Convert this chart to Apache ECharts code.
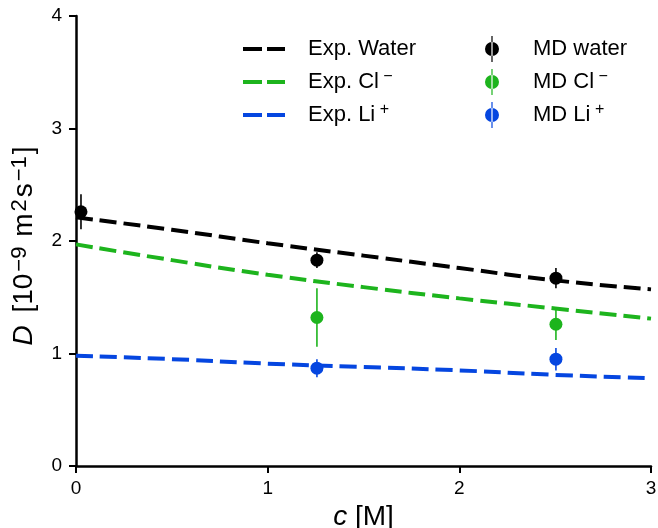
<!DOCTYPE html>
<html><head><meta charset="utf-8">
<script src="https://cdn.jsdelivr.net/npm/echarts@6/dist/echarts.min.js"></script>
<style>html,body{margin:0;padding:0;background:#fff}#c{width:658px;height:528px}</style>
</head><body><div id="c"></div>
<script>
// Experimental curves (read at sample concentrations)
const expC = [0, 0.5, 1, 1.5, 2, 2.5, 3];
const expWater = [2.21, 2.10, 1.98, 1.87, 1.76, 1.65, 1.57];
const expCl = [1.97, 1.83, 1.70, 1.59, 1.49, 1.40, 1.31];
const expLi = [0.98, 0.95, 0.91, 0.88, 0.85, 0.81, 0.78];
// MD points
const mdWaterC = [0.026, 1.257, 2.504];
const mdWaterD = [2.26, 1.83, 1.67];
const mdWaterErr = [0.155, 0.07, 0.09];
const mdIonC = [1.257, 2.504];
const mdClD = [1.32, 1.26];
const mdClErr = [0.26, 0.14];
const mdLiD = [0.87, 0.95];
const mdLiErr = [0.08, 0.1];
const xTicks = [0, 1, 2, 3];
const yTicks = [0, 1, 2, 3, 4];

const BLACK = '#000000', GREEN = '#1db41d', BLUE = '#0546e0';
const FONT = 'Liberation Sans';

function pairs(xs, ys) { return xs.map((x, i) => [x, ys[i]]); }
function errData(xs, ys, es) { return xs.map((x, i) => [x, ys[i] - es[i], ys[i] + es[i]]); }

function lineSeries(name, ys, color) {
  return {
    name, type: 'line', data: pairs(expC, ys), smooth: true, symbol: 'none',
    lineStyle: { color, width: 4, type: [17, 7], cap: 'butt' },
    itemStyle: { color }, z: 2
  };
}
function errSeries(xs, ys, es, color) {
  return {
    type: 'custom', data: errData(xs, ys, es), z: 3, silent: true,
    renderItem: function (params, api) {
      const lo = api.coord([api.value(0), api.value(1)]);
      const hi = api.coord([api.value(0), api.value(2)]);
      return { type: 'line', shape: { x1: lo[0], y1: lo[1], x2: hi[0], y2: hi[1] },
        style: { stroke: color, lineWidth: 1.6 } };
    }
  };
}
function ptSeries(name, xs, ys, color) {
  return { name, type: 'scatter', data: pairs(xs, ys), symbol: 'circle', symbolSize: 13,
    itemStyle: { color, opacity: 1 }, z: 4 };
}

const mdIcon = 'path://M6.4,0h1.2v26h-1.2Z M0,13a7,7 0 1,0 14,0a7,7 0 1,0 -14,0Z';
const dashIcon = 'path://M0,0h19v4h-19Z M24,0h18v4h-18Z';
const labels = {
  'Exp. Water': 'Exp. Water',
  'Exp. Cl': 'Exp. Cl{s| −}',
  'Exp. Li': 'Exp. Li{s| +}',
  'MD water': 'MD water',
  'MD Cl': 'MD Cl{s| −}',
  'MD Li': 'MD Li{s| +}'
};
const legendText = (pad) => ({ fontFamily: FONT, fontSize: 22, lineHeight: 26, color: '#000', padding: [0, 0, 0, pad],
  rich: { s: { fontFamily: FONT, fontSize: 16, lineHeight: 16, verticalAlign: 'top', color: '#000' } } });

const chart = echarts.init(document.getElementById('c'), null, { renderer: 'canvas' });
chart.setOption({
  animation: false,
  backgroundColor: '#fff',
  grid: { left: 76, right: 7, top: 16, bottom: 62, containLabel: false, outerBoundsMode: 'none' },
  xAxis: {
    type: 'value', min: 0, max: 3, interval: 1,
    name: '{i|c} [M]', nameLocation: 'middle', nameGap: 37,
    nameTextStyle: { fontFamily: FONT, fontSize: 28, color: '#000',
      rich: { i: { fontFamily: FONT, fontSize: 28, fontStyle: 'italic', color: '#000' } } },
    axisLine: { lineStyle: { color: '#000', width: 2.5 } },
    axisTick: { length: 7, lineStyle: { color: '#000', width: 2 } },
    axisLabel: { fontFamily: FONT, fontSize: 19, color: '#000', margin: 13,
      formatter: v => xTicks.includes(v) ? String(v) : '' },
    splitLine: { show: false }
  },
  yAxis: {
    type: 'value', min: 0, max: 4, interval: 1,
    name: '{i|D} [10{s|−9} m{s|2}s{s|−1}]', nameLocation: 'middle', nameGap: 30, nameRotate: 90,
    nameTextStyle: { fontFamily: FONT, fontSize: 28, lineHeight: 32, color: '#000', padding: [0, 10, 0, 0],
      rich: { i: { fontFamily: FONT, fontSize: 28, lineHeight: 32, fontStyle: 'italic', color: '#000', padding: [0, 5, 0, 0] },
              s: { fontFamily: FONT, fontSize: 22, lineHeight: 22, verticalAlign: 'top', color: '#000', padding: [0, 2, 0, 2] } } },
    axisLine: { lineStyle: { color: '#000', width: 2.5 } },
    axisTick: { length: 7, lineStyle: { color: '#000', width: 2 } },
    axisLabel: { fontFamily: FONT, fontSize: 19, color: '#000', margin: 14,
      formatter: v => yTicks.includes(v) ? String(v) : '' },
    splitLine: { show: false }
  },
  legend: [
    { data: ['Exp. Water', 'Exp. Cl', 'Exp. Li'], orient: 'vertical', left: 243, top: 36, padding: 0,
      itemWidth: 42, itemHeight: 4, itemGap: 7, icon: dashIcon,
      formatter: n => labels[n], textStyle: legendText(18) },
    { data: ['MD water', 'MD Cl', 'MD Li'], orient: 'vertical', left: 485, top: 36, padding: 0,
      itemWidth: 14, itemHeight: 26, itemGap: 7, icon: mdIcon,
      formatter: n => labels[n], textStyle: legendText(29) }
  ],
  series: [
    lineSeries('Exp. Water', expWater, BLACK),
    lineSeries('Exp. Cl', expCl, GREEN),
    lineSeries('Exp. Li', expLi, BLUE),
    errSeries(mdWaterC, mdWaterD, mdWaterErr, BLACK),
    errSeries(mdIonC, mdClD, mdClErr, GREEN),
    errSeries(mdIonC, mdLiD, mdLiErr, BLUE),
    ptSeries('MD water', mdWaterC, mdWaterD, BLACK),
    ptSeries('MD Cl', mdIonC, mdClD, GREEN),
    ptSeries('MD Li', mdIonC, mdLiD, BLUE)
  ]
});
</script></body></html>
